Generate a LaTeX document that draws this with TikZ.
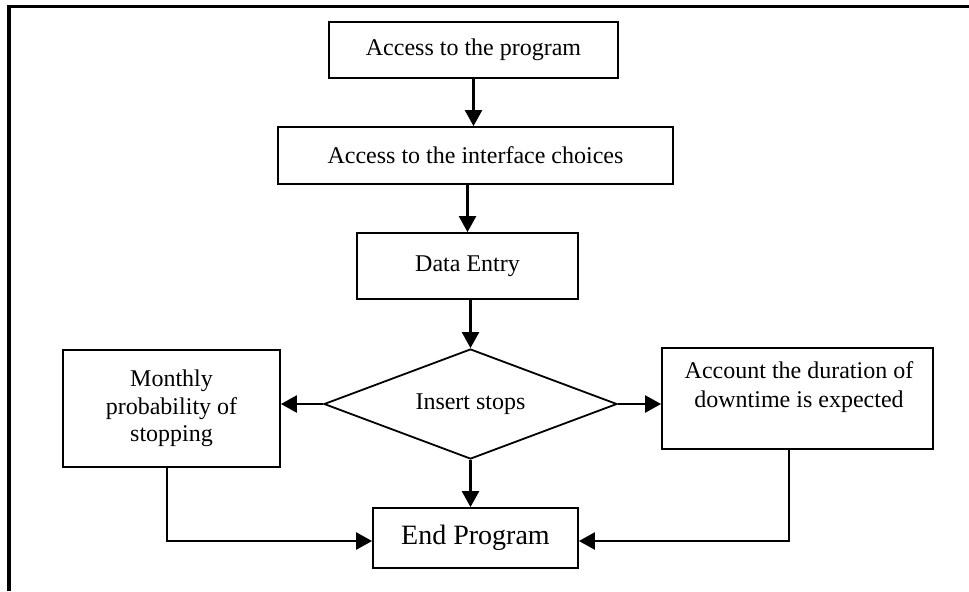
\documentclass[tikz,border=0pt]{standalone}
\usepackage{fontspec}
\setmainfont{Liberation Serif}
\usetikzlibrary{arrows.meta,shapes.geometric}
\begin{document}
\begin{tikzpicture}[x=0.5pt,y=-0.5pt,
  box/.style={draw,line width=0.9pt,rectangle,inner sep=0pt,align=center,font=\fontsize{12}{13.8}\selectfont},
  dia/.style={draw,line width=0.9pt,diamond,aspect=2.66,inner sep=0pt,font=\fontsize{12}{13.8}\selectfont},
  conn/.style={line width=1.2pt,-{Triangle[length=8pt,width=8.5pt]}},
  frame/.style={line width=1.8pt}]
\useasboundingbox (0,0) rectangle (969,591);
% outer frame (top and left only)
\coordinate (ftl) at (9,6.5);
\coordinate (ftr) at (969,6.5);
\coordinate (fbl) at (9,591);
\draw[frame] (ftr) -- (ftl) -- (fbl);
% nodes
\node[box,minimum width=144.5pt,minimum height=28pt] (b1) at (473.5,50) {Access to the program};
\node[box,minimum width=197.5pt,minimum height=28.5pt] (b2) at (475.5,155.5) {Access to the interface choices};
\node[box,minimum width=110.5pt,minimum height=33pt] (b3) at (467.5,266) {Data Entry};
\node[dia,minimum width=146.5pt,minimum height=55pt] (d) at (470.5,404) {Insert stops};
\node[box,minimum width=108.5pt,minimum height=58.5pt] (lb) at (171.5,408.5) {Monthly\\probability of\\stopping};
\node[box,minimum width=135.5pt,minimum height=50.5pt] (rb) at (797.5,398.5) {};
\node[align=center,inner sep=0pt,font=\fontsize{12}{14.5}\selectfont] (rbt) at (799,387) {Account the duration of\\downtime is expected};
\node[box,minimum width=102.5pt,minimum height=30pt,font=\fontsize{14}{16}\selectfont] (eb) at (475.5,538) {End Program};
% connectors
\draw[conn] (b1.south) -- (b1.south |- b2.north);
\draw[conn] (b2.south -| b3.north) -- (b3.north);
\draw[conn] (b3.south -| d.north) -- (d.north);
\draw[conn] (d.west) -- (lb.east |- d.west);
\draw[conn] (d.east) -- (rb.west |- d.east);
\draw[conn] (d.south) -- (d.south |- eb.north);
\coordinate (lbo) at ([xshift=-2.25pt]lb.south);
\coordinate (rbo) at ([xshift=-4.25pt]rb.south);
\coordinate (ebw) at ([yshift=-1.5pt]eb.west);
\coordinate (ebe) at ([yshift=-1.5pt]eb.east);
\draw[conn] (lbo) -- (lbo |- ebw) -- (ebw);
\draw[conn] (rbo) -- (rbo |- ebe) -- (ebe);
\end{tikzpicture}
\end{document}
